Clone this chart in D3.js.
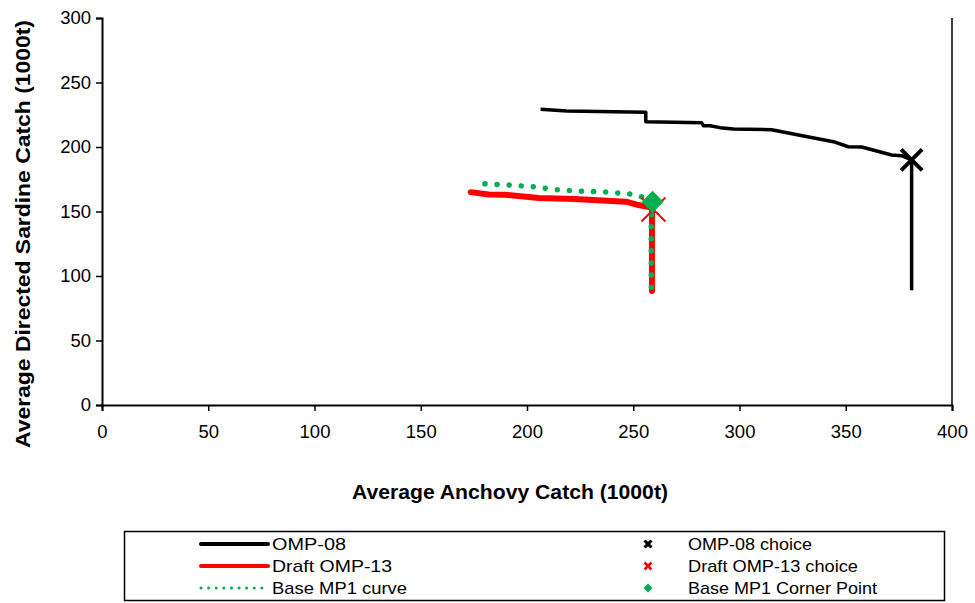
<!DOCTYPE html>
<html>
<head>
<meta charset="utf-8">
<script src="https://cdn.jsdelivr.net/npm/d3@7"></script>
<style>
  body { margin: 0; background: #fff; }
  svg { font-family: "Liberation Sans", Arial, sans-serif; }
</style>
</head>
<body>
<div id="chart"></div>
<script>
// values: [anchovy, sardine] in 1000t
const omp08 = [[206.4, 229.2], [218.7, 227.9], [255.9, 226.9], [255.9, 219.6], [282.2, 218.8],
  [283, 216.5], [286.1, 216.5], [290.8, 215], [297.1, 214], [315.1, 213.4], [333.2, 207.5],
  [344.2, 204.1], [351.2, 200.2], [357.5, 200], [371.6, 193.8], [376.3, 193.3], [381, 190], [381, 89]];
const draftOmp13 = [[173.5, 165], [181.9, 163.2], [189.5, 163], [205.5, 160.5], [222.3, 159.6],
  [246.6, 157.6], [252.5, 155], [258.8, 153], [258.8, 88.4]];
const baseMp1 = [[180.2, 171.5], [191.3, 170.5], [202.6, 169.3], [213.5, 167], [224.7, 165.7],
  [236.2, 165.2], [247.5, 163.8], [253, 162], [258.5, 158], [258.5, 88.4]];
const omp08Choice = [381, 190];
const draftChoice = [259.5, 151.5];
const cornerPoint = [259.1, 157.6];

const xTicks = [0, 50, 100, 150, 200, 250, 300, 350, 400];
const yTicks = [0, 50, 100, 150, 200, 250, 300];
const legendLeft = ["OMP-08", "Draft OMP-13", "Base MP1 curve"];
const legendRight = ["OMP-08 choice", "Draft OMP-13 choice", "Base MP1 Corner Point"];

const width = 975, height = 603;
const plot = { left: 102, right: 952, top: 18, bottom: 405 };

const svg = d3.select("#chart").append("svg")
  .attr("width", width)
  .attr("height", height);

const x = d3.scaleLinear().domain([0, 400]).range([plot.left, plot.right]);
const y = d3.scaleLinear().domain([0, 300]).range([plot.bottom, plot.top]);

// axes
const xAxis = svg.append("g")
  .attr("transform", `translate(0, ${plot.bottom})`)
  .call(d3.axisBottom(x).tickValues(xTicks).tickSize(6).tickPadding(14));
const yAxis = svg.append("g")
  .attr("transform", `translate(${plot.left}, 0)`)
  .call(d3.axisLeft(y).tickValues(yTicks).tickSize(6).tickPadding(5));
[xAxis, yAxis].forEach(g => {
  g.select(".domain").attr("stroke", "#000").attr("stroke-width", 2);
  g.selectAll(".tick line").attr("stroke", "#000").attr("stroke-width", 1.5);
  g.selectAll(".tick text").attr("font-size", 18.5).attr("fill", "#000")
    .attr("font-family", "Liberation Sans, Arial, sans-serif");
});
// right edge of the plot area
svg.append("line")
  .attr("x1", plot.right).attr("x2", plot.right)
  .attr("y1", plot.top).attr("y2", plot.bottom)
  .attr("stroke", "#000").attr("stroke-width", 1.5);

// axis titles
svg.append("text")
  .attr("x", 510)
  .attr("y", 499)
  .attr("text-anchor", "middle")
  .attr("font-size", 19.5)
  .attr("font-weight", "bold")
  .attr("textLength", 316)
  .attr("lengthAdjust", "spacingAndGlyphs")
  .text("Average Anchovy Catch (1000t)");
svg.append("text")
  .attr("transform", "translate(30, 234) rotate(-90)")
  .attr("text-anchor", "middle")
  .attr("font-size", 19.5)
  .attr("font-weight", "bold")
  .attr("textLength", 428)
  .attr("lengthAdjust", "spacingAndGlyphs")
  .text("Average Directed Sardine Catch (1000t)");

const line = d3.line().x(d => x(d[0])).y(d => y(d[1]));

svg.append("path")
  .datum(omp08)
  .attr("d", line)
  .attr("fill", "none")
  .attr("stroke", "#000")
  .attr("stroke-width", 3.5)
  .attr("stroke-linejoin", "round");

svg.append("path")
  .datum(draftOmp13)
  .attr("d", line)
  .attr("fill", "none")
  .attr("stroke", "#ff0000")
  .attr("stroke-width", 6)
  .attr("stroke-linejoin", "round")
  .attr("stroke-linecap", "round");

svg.append("path")
  .datum(baseMp1)
  .attr("d", line)
  .attr("fill", "none")
  .attr("stroke", "#00b050")
  .attr("stroke-width", 5.5)
  .attr("stroke-dasharray", "0.1 12")
  .attr("stroke-linecap", "round");

function cross(g, cx, cy, r, color, sw) {
  g.append("path")
    .attr("d", `M${cx - r},${cy - r}L${cx + r},${cy + r}M${cx - r},${cy + r}L${cx + r},${cy - r}`)
    .attr("stroke", color)
    .attr("stroke-width", sw)
    .attr("fill", "none");
}
function diamond(g, cx, cy, r, color) {
  g.append("path")
    .attr("d", `M${cx},${cy - r}L${cx + r},${cy}L${cx},${cy + r}L${cx - r},${cy}Z`)
    .attr("fill", color);
}

cross(svg, x(draftChoice[0]), y(draftChoice[1]), 12, "#ff0000", 2);
diamond(svg, x(cornerPoint[0]), y(cornerPoint[1]), 11, "#00b050");
cross(svg, x(omp08Choice[0]), y(omp08Choice[1]), 10.5, "#000", 4);

// legend
const legend = svg.append("g");
legend.append("rect")
  .attr("x", 124.5).attr("y", 531.5)
  .attr("width", 820).attr("height", 69)
  .attr("fill", "#fff")
  .attr("stroke", "#000")
  .attr("stroke-width", 1.5);
const rowY = [544, 566, 588];
const leftWidths = [74, 120, 135];
const rightWidths = [124, 170, 189];
const sampleStyles = [
  { stroke: "#000", width: 4, dash: null },
  { stroke: "#ff0000", width: 4, dash: null },
  { stroke: "#00b050", width: 3, dash: "0.1 7.5" }
];
legendLeft.forEach((label, i) => {
  const s = sampleStyles[i];
  const l = legend.append("line")
    .attr("x1", 201).attr("x2", 268)
    .attr("y1", rowY[i]).attr("y2", rowY[i])
    .attr("stroke", s.stroke)
    .attr("stroke-width", s.width)
    .attr("stroke-linecap", "round");
  if (s.dash) l.attr("stroke-dasharray", s.dash);
  legend.append("text")
    .attr("x", 272).attr("y", rowY[i] + 6)
    .attr("font-size", 17)
    .attr("textLength", leftWidths[i])
    .attr("lengthAdjust", "spacingAndGlyphs")
    .text(label);
});
legendRight.forEach((label, i) => {
  const cx = 648, cy = rowY[i];
  if (i === 0) cross(legend, cx, cy, 3.5, "#000", 3);
  if (i === 1) cross(legend, cx, cy, 3.5, "#ff0000", 2.5);
  if (i === 2) diamond(legend, cx, cy, 4.5, "#00b050");
  legend.append("text")
    .attr("x", 688).attr("y", cy + 6)
    .attr("font-size", 17)
    .attr("textLength", rightWidths[i])
    .attr("lengthAdjust", "spacingAndGlyphs")
    .text(label);
});
</script>
</body>
</html>
